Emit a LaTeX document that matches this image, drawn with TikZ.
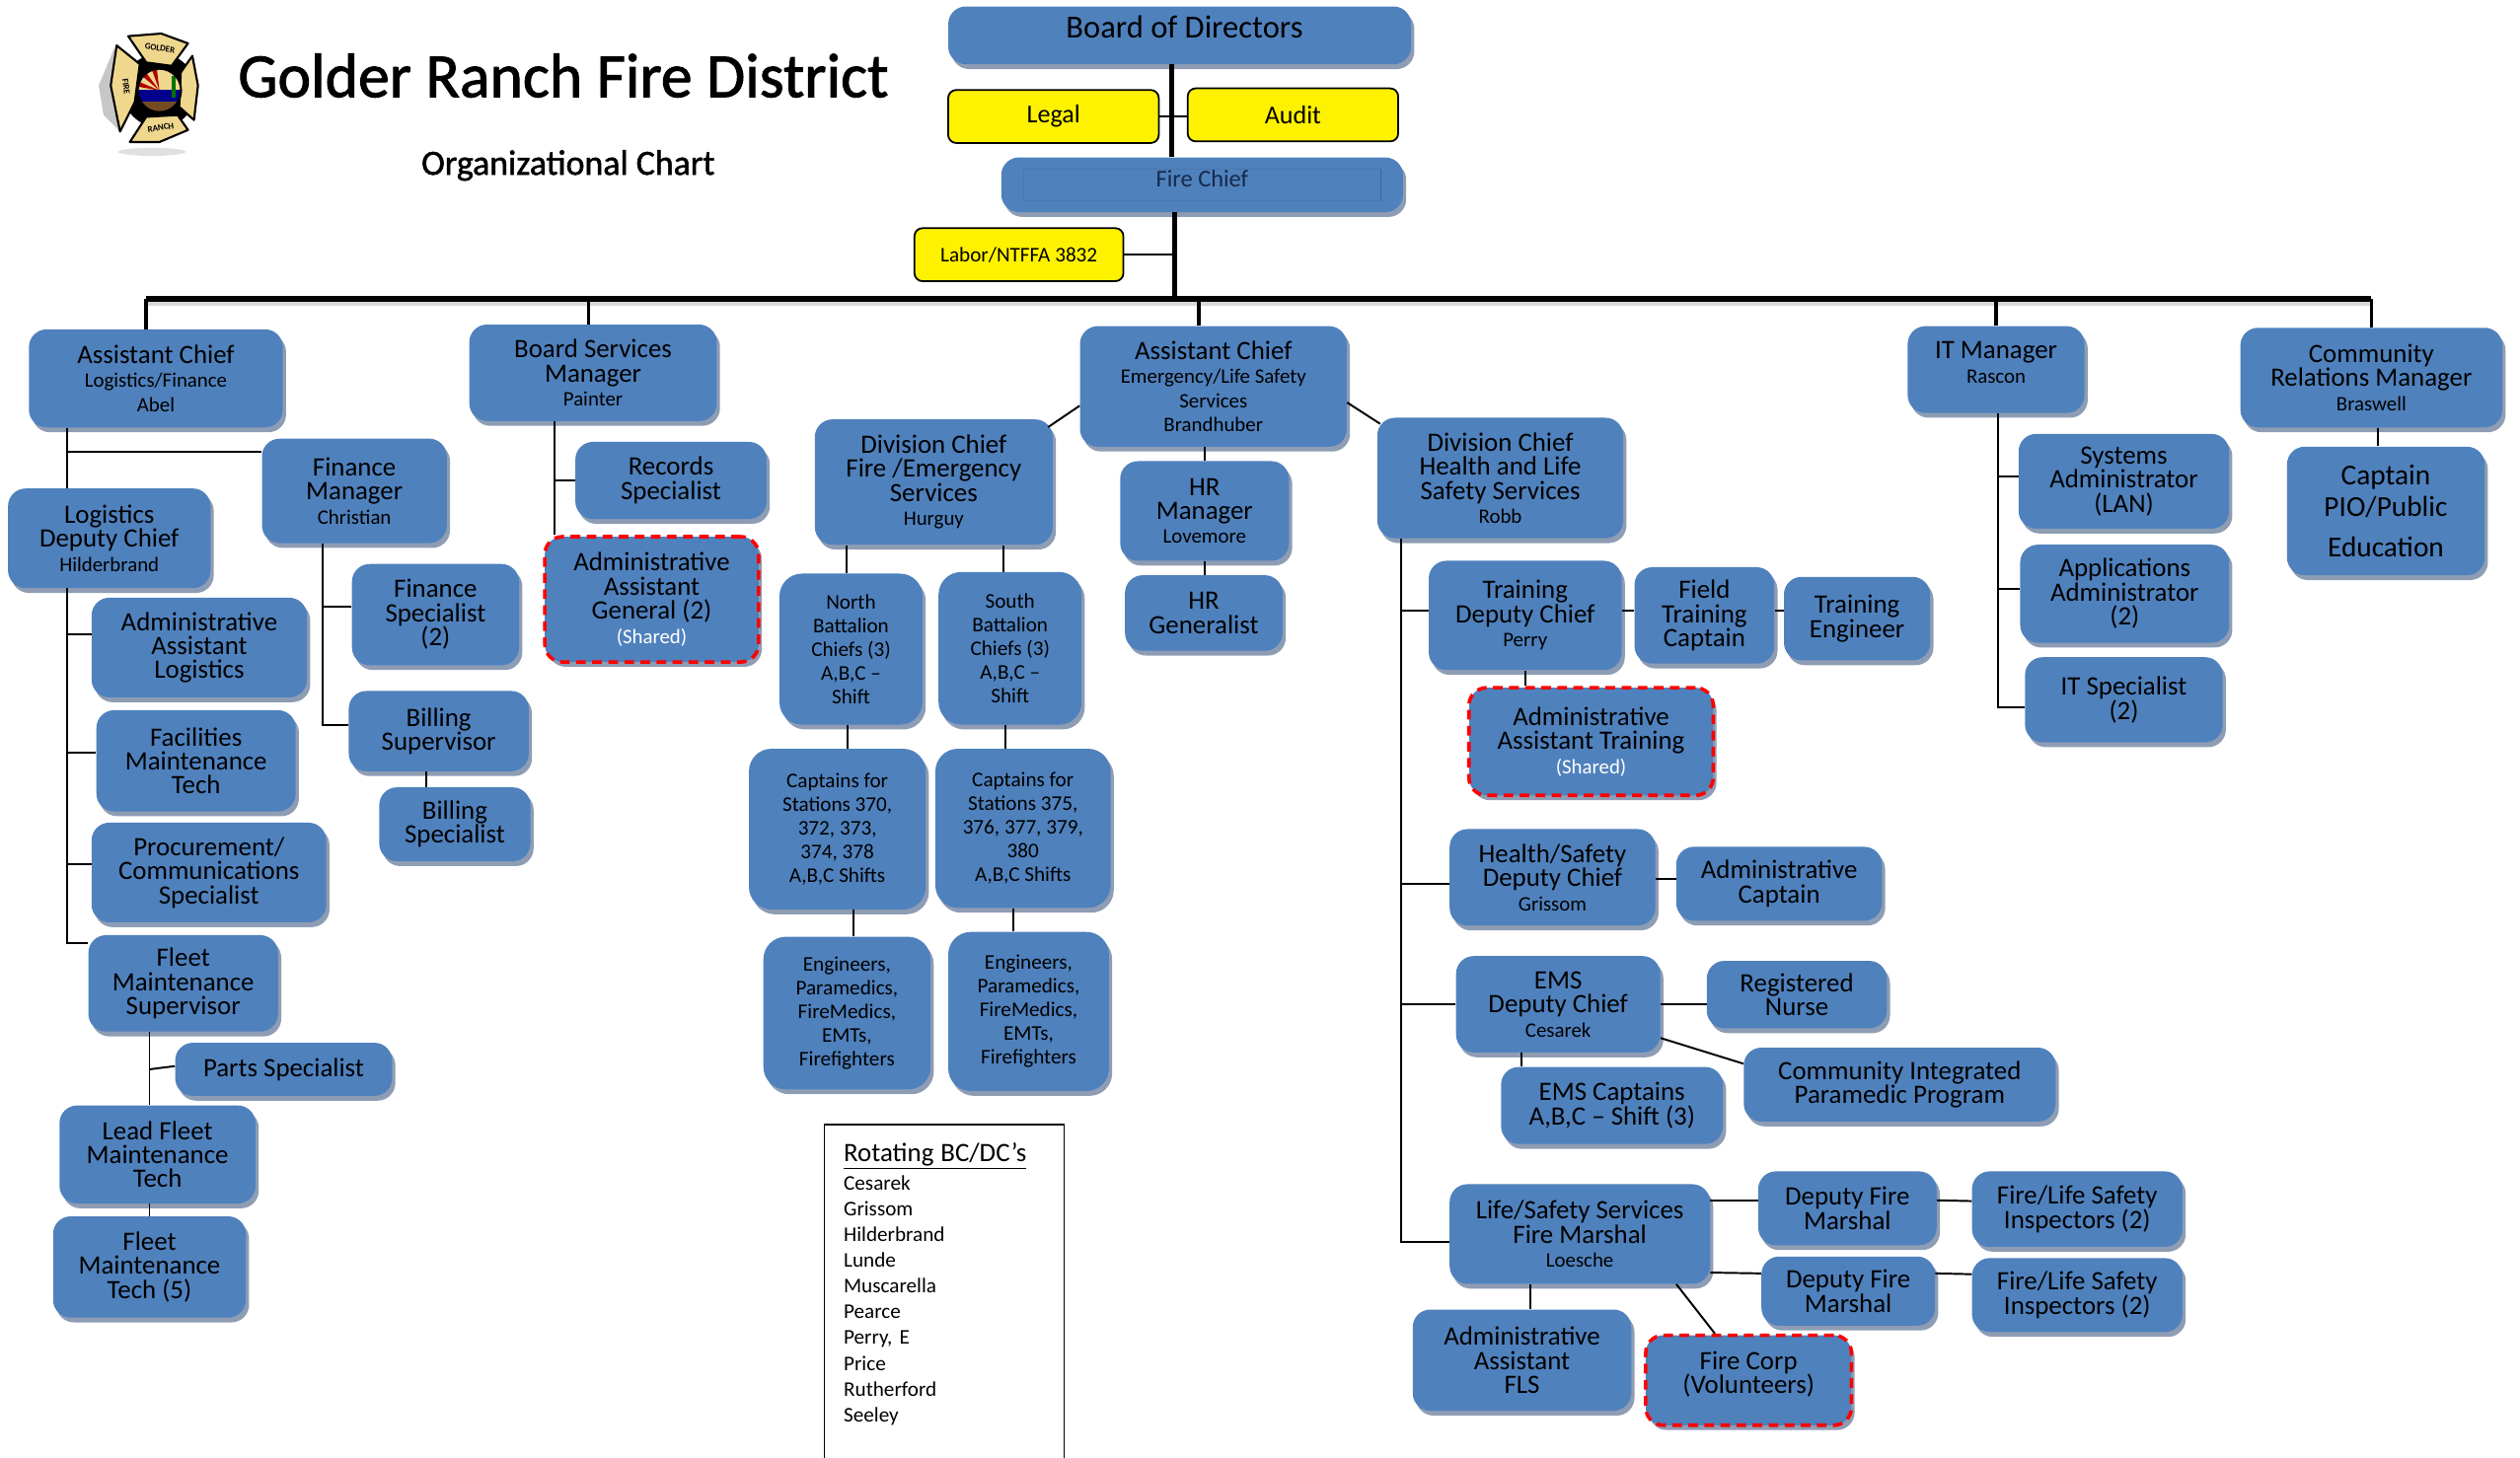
\documentclass[tikz,border=0pt]{standalone}
\usepackage{fontspec}
\setmainfont{Carlito}
\newfontfamily\titlefont[FakeBold=1.4]{Carlito}
\usetikzlibrary{shadows}
\definecolor{orgblue}{HTML}{4F81BD}
\definecolor{orgshade}{HTML}{8E9DB4}
\definecolor{chiefink}{HTML}{17294A}
\definecolor{badgegold}{HTML}{EFD78E}
\newcommand{\subname}[1]{{\fontsize{12.8}{15}\selectfont #1}}
\tikzset{
  orgbox/.style={fill=orgblue, rounded corners=11pt, inner sep=0pt, align=center,
    font=\fontsize{16.5}{15}\selectfont,
    drop shadow={shadow xshift=2pt, shadow yshift=-3pt, fill=orgshade, opacity=1}},
  smallbox/.style={orgbox, rounded corners=14pt, font=\fontsize{13}{14.7}\selectfont},
  sharedbox/.style={orgbox, draw=red, line width=2.2pt, dash pattern=on 6pt off 4pt},
  legalbox/.style={fill=yellow, draw=black, line width=1.1pt, rounded corners=5pt, inner sep=0pt, font=\fontsize{16}{15}\selectfont},
  orgline/.style={draw=black, line width=1.2pt},
  spine/.style={draw=black, line width=3pt},
  chiefframe/.style={draw=orgblue!92!black, line width=0.5pt},
  badgearm/.style={fill=badgegold, draw=black, line width=1.3pt, line join=round},
  badgetext/.style={font=\fontsize{5.5}{6}\selectfont\bfseries, inner sep=0pt}
}
\begin{document}
\begin{tikzpicture}[x=1pt, y=-1pt]
  \useasboundingbox (0,0) rectangle (1568,907);

  % Badge
  \fill[black!12] (94.5,94.5) ellipse (21 and 2.5);
  \fill[black!22] (71.6,28.7) -- (61.4,53.2) -- (64.4,71.6) -- (74.7,81.9) -- (68.9,53.2) -- cycle;
  \fill[black] (99.2,56.3) circle (23);
  \filldraw[badgearm] (79.8,22.5) -- (100.3,20.9) -- (117,27) -- (106.8,41) -- (91,38.9) -- cycle;
  \filldraw[badgearm] (72.6,28.3) -- (87,39.9) -- (83.9,63.5) -- (74.7,81.9) -- (68.9,53.2) -- cycle;
  \filldraw[badgearm] (119.7,34.8) -- (123.2,53.2) -- (120.7,74.7) -- (111.5,66.5) -- (112.5,45) -- cycle;
  \filldraw[badgearm] (91,72.7) -- (110.5,71.6) -- (117,80.9) -- (99.2,88.4) -- (80.8,88.4) -- cycle;
  \begin{scope}
    \clip (99.2,56.3) circle (13.5);
    \fill[badgegold] (85,42) rectangle (113,58);
    \foreach \a in {100,130,160,190,220,250}
      \fill[red!70!black] (99.2,56.3) -- ++(\a:15) -- ++(\a+90:3.5) -- cycle;
    \fill[blue!55!black] (85,56) rectangle (113,64);
    \fill[brown!60!black] (85,63) rectangle (113,71);
    \fill[green!45!black] (107,47) rectangle (109,61);
  \end{scope}
  \draw[line width=1.2pt] (99.2,56.3) circle (13.5);
  \node[badgetext, rotate=-8] (badgetop) at (99.5,30) {GOLDER};
  \node[badgetext, rotate=-82] (badgeleft) at (78.5,54) {FIRE};
  \node[badgetext, rotate=8] (badgelow) at (100,79.5) {RANCH};

  % Title
  \node[inner sep=0pt, font=\fontsize{39.1}{40}\titlefont] (title) at (350.5,47) {Golder Ranch Fire District};
  \node[inner sep=0pt, font=\fontsize{22}{24}\titlefont] (subtitle) at (353.5,103) {Organizational Chart};

  % Top of the chart
  \node[orgbox, minimum width=288, minimum height=36, text depth=10pt, font=\fontsize{20}{18}\selectfont] (board) at (734,22) {\hspace*{6pt}Board of Directors};
  \node[legalbox, minimum width=131, minimum height=33] (legal) at (655.5,72.5) {Legal};
  \node[legalbox, minimum width=131, minimum height=33] (audit) at (804.5,71.5) {Audit};
  \node[orgbox, minimum width=250, minimum height=34, text depth=8pt, text=chiefink, font=\fontsize{15}{13}\selectfont] (chief) at (748,115) {Fire Chief};
  \node[legalbox, minimum width=130, minimum height=33, font=\fontsize{13}{13}\selectfont] (labor) at (634,158.5) {Labor/NTFFA 3832};

  % Second row
  \node[orgbox, minimum width=158, minimum height=61] (chieflog) at (97,235.5) {Assistant Chief\\\subname{Logistics/Finance}\\\subname{Abel}};
  \node[orgbox, minimum width=154, minimum height=60] (boardsvc) at (369,232) {Board Services\\Manager\\\subname{Painter}};
  \node[orgbox, minimum width=166, minimum height=75] (chiefems) at (755,240.5) {Assistant Chief\\\subname{Emergency/Life Safety}\\\subname{Services}\\\subname{Brandhuber}};
  \node[orgbox, minimum width=110, minimum height=54, text depth=9pt] (itmgr) at (1242,230) {IT Manager\\\subname{Rascon}};
  \node[orgbox, minimum width=163, minimum height=62] (commgr) at (1475.5,235) {Community\\Relations Manager\\\subname{Braswell}};
  \node[orgbox, minimum width=123, minimum height=80, font=\fontsize{18}{20}\selectfont] (pio) at (1484.5,318) {Captain\\PIO/Public\\[5pt]Education};

  % Logistics and finance
  \node[orgbox, minimum width=115, minimum height=65] (finmgr) at (220.5,305.5) {Finance\\Manager\\\subname{Christian}};
  \node[orgbox, minimum width=126, minimum height=62] (logdep) at (68,335) {Logistics\\Deputy Chief\\\subname{Hilderbrand}};
  \node[orgbox, minimum width=104, minimum height=63] (finspec) at (271,382.5) {Finance\\Specialist\\(2)};
  \node[orgbox, minimum width=112, minimum height=50] (billsup) at (273,455) {Billing\\Supervisor};
  \node[orgbox, minimum width=94, minimum height=46] (billspec) at (283,513) {Billing\\Specialist};
  \node[orgbox, minimum width=134, minimum height=62] (adminlog) at (124,403) {Administrative\\Assistant\\Logistics};
  \node[orgbox, minimum width=124, minimum height=63] (facil) at (122,473.5) {Facilities\\Maintenance\\Tech};
  \node[orgbox, minimum width=146, minimum height=62] (procure) at (130,543) {Procurement/\\Communications\\Specialist};
  \node[orgbox, minimum width=118, minimum height=60] (fleetsup) at (114,612) {Fleet\\Maintenance\\Supervisor};
  \node[orgbox, minimum width=135, minimum height=33] (parts) at (176.5,665.5) {Parts Specialist};
  \node[orgbox, minimum width=122, minimum height=61] (leadfleet) at (98,718.5) {Lead Fleet\\Maintenance\\Tech};
  \node[orgbox, minimum width=120, minimum height=63] (fleettech) at (93,788.5) {Fleet\\Maintenance\\Tech (5)};

  % Board services
  \node[orgbox, minimum width=119, minimum height=48] (records) at (417.5,299) {Records\\Specialist};
  \node[sharedbox, minimum width=133, minimum height=78] (admingen) at (405.5,373) {Administrative\\Assistant\\General (2)\\\textcolor{white}{\subname{(Shared)}}};

  % Fire and emergency services
  \node[orgbox, minimum width=148, minimum height=78] (divfire) at (581,300) {Division Chief\\Fire /Emergency\\Services\\\subname{Hurguy}};
  \node[smallbox, minimum width=89, minimum height=94] (north) at (529.5,404) {North\\Battalion\\Chiefs (3)\\A,B,C --\\Shift};
  \node[smallbox, minimum width=89, minimum height=95] (south) at (628.5,403.5) {South\\Battalion\\Chiefs (3)\\A,B,C --\\Shift};
  \node[smallbox, minimum width=110, minimum height=100] (capnorth) at (521,516) {Captains for\\Stations 370,\\372, 373,\\374, 378\\A,B,C Shifts};
  \node[smallbox, minimum width=109, minimum height=99] (capsouth) at (636.5,515.5) {Captains for\\Stations 375,\\376, 377, 379,\\380\\A,B,C Shifts};
  \node[smallbox, minimum width=104, minimum height=95] (engnorth) at (527,630.5) {Engineers,\\Paramedics,\\FireMedics,\\EMTs,\\Firefighters};
  \node[smallbox, minimum width=100, minimum height=99] (engsouth) at (640,629.5) {Engineers,\\Paramedics,\\FireMedics,\\EMTs,\\Firefighters};
  \node[inner sep=0pt, minimum width=149, minimum height=198, text width=125, align=left, font=\fontsize{13}{16}\selectfont] (rotating) at (587.5,799) {{\fontsize{16.5}{16}\selectfont\underline{Rotating BC/DC’s}}\\[2pt]Cesarek\\Grissom\\Hilderbrand\\Lunde\\Muscarella\\Pearce\\Perry, E\\Price\\Rutherford\\Seeley};

  % Human resources
  \node[orgbox, minimum width=105, minimum height=62] (hrmgr) at (749.5,318) {HR\\Manager\\\subname{Lovemore}};
  \node[orgbox, minimum width=98, minimum height=47] (hrgen) at (749,381.5) {HR\\Generalist};

  % Health and life safety
  \node[orgbox, minimum width=153, minimum height=75] (divlife) at (933.5,297.5) {Division Chief\\Health and Life\\Safety Services\\\subname{Robb}};
  \node[orgbox, minimum width=120, minimum height=68] (traindc) at (949,383) {Training\\Deputy Chief\\\subname{Perry}};
  \node[orgbox, minimum width=87, minimum height=60] (field) at (1060.5,383) {Field\\Training\\Captain};
  \node[orgbox, minimum width=91, minimum height=52] (trainer) at (1155.5,385) {Training\\Engineer};
  \node[sharedbox, minimum width=152, minimum height=67] (admintrain) at (990,461.5) {Administrative\\Assistant Training\\\textcolor{white}{\subname{(Shared)}}};
  \node[orgbox, minimum width=128, minimum height=60] (healthdc) at (966,546) {Health/Safety\\Deputy Chief\\\subname{Grissom}};
  \node[orgbox, minimum width=128, minimum height=46] (admincap) at (1107,550) {Administrative\\Captain};
  \node[orgbox, minimum width=127, minimum height=60] (emsdc) at (969.5,625) {EMS\\Deputy Chief\\\subname{Cesarek}};
  \node[orgbox, minimum width=112, minimum height=42] (nurse) at (1118,619) {Registered\\Nurse};
  \node[orgbox, minimum width=194, minimum height=46] (cipp) at (1182,675) {Community Integrated\\Paramedic Program};
  \node[orgbox, minimum width=138, minimum height=48] (emscap) at (1003,688) {EMS Captains\\A,B,C -- Shift (3)};
  \node[orgbox, minimum width=162, minimum height=62] (marshal) at (983,768) {Life/Safety Services\\Fire Marshal\\\subname{Loesche}};
  \node[orgbox, minimum width=111, minimum height=46] (dfmone) at (1149.5,752) {Deputy Fire\\Marshal};
  \node[orgbox, minimum width=108, minimum height=43] (dfmtwo) at (1150,803.5) {Deputy Fire\\Marshal};
  \node[orgbox, minimum width=131, minimum height=47] (inspone) at (1292.5,752.5) {Fire/Life Safety\\Inspectors (2)};
  \node[orgbox, minimum width=131, minimum height=46] (insptwo) at (1292.5,806) {Fire/Life Safety\\Inspectors (2)};
  \node[orgbox, minimum width=136, minimum height=63] (adminfls) at (947,846.5) {Administrative\\Assistant\\FLS};
  \node[sharedbox, minimum width=128, minimum height=56, text depth=9.5pt] (firecorp) at (1088,859) {Fire Corp\\(Volunteers)};

  % IT
  \node[orgbox, minimum width=131, minimum height=59] (sysadmin) at (1321.5,299.5) {Systems\\Administrator\\(LAN)};
  \node[orgbox, minimum width=130, minimum height=61] (appadmin) at (1322,369.5) {Applications\\Administrator\\(2)};
  \node[orgbox, minimum width=123, minimum height=53] (itspec) at (1321.5,435.5) {IT Specialist\\(2)};

  % Trunk lines
  \coordinate (busl) at (91,186);
  \coordinate (busr) at (1475,186);
  \coordinate (logtrunk) at (42,0);
  \coordinate (fintrunk) at (201,0);
  \coordinate (bstrunk) at (345,0);
  \coordinate (ittrunk) at (1243,0);
  \coordinate (lifetrunk) at (872,0);

  % Board to chief to bus
  \draw[chiefframe] ([xshift=14pt,yshift=-7.5pt]chief.north west) rectangle ([xshift=-14pt,yshift=7.5pt]chief.south east);
  \draw[chiefframe, draw=orgblue!80!black, line width=1pt] ([xshift=-14pt,yshift=-7.5pt]chief.north east) -- ([xshift=-14pt,yshift=7.5pt]chief.south east);
  \draw[spine] ([xshift=-5pt]board.south) -- ([xshift=-5pt]board.south |- chief.north);
  \draw[spine] ([xshift=-17pt]chief.south) -- ([xshift=-17pt]chief.south |- busl);
  \draw[draw=black!15, line width=2.5pt] ([yshift=-3pt]busl) -- ([yshift=-3pt]busr);
  \draw[spine, line width=3.6pt] (busl) -- (busr);
  \draw[orgline] (legal.east) -- (legal.east -| audit.west);
  \draw[orgline] (labor.east) -- ([xshift=-17pt]labor.east -| chief.south);
  \draw[orgline, line width=2.2pt] (busl) -- (busl |- chieflog.north);
  \draw[orgline, line width=2pt] ([xshift=-3pt]boardsvc.north) -- ([xshift=-3pt]boardsvc.north |- busl);
  \draw[orgline, line width=2pt] ([xshift=-9pt]chiefems.north) -- ([xshift=-9pt]chiefems.north |- busl);
  \draw[orgline, line width=2pt] (itmgr.north) -- (itmgr.north |- busl);
  \draw[orgline, line width=2pt] (commgr.north) -- (commgr.north |- busl);
  \draw[orgline] ([xshift=4pt]commgr.south) -- ([xshift=4pt]commgr.south |- pio.north);

  % Logistics lines
  \draw[orgline] (chieflog.south -| logtrunk) -- (logdep.north -| logtrunk);
  \draw[orgline] (logtrunk |- finmgr.west) ++(0,-24.5) -- ([yshift=24.5pt]finmgr.west);
  \draw[orgline] (logdep.south -| logtrunk) |- ([yshift=25pt]fleetsup.west);
  \draw[orgline] ([yshift=8pt]logtrunk |- adminlog.west) -- ([yshift=8pt]adminlog.west);
  \draw[orgline] ([yshift=5pt]logtrunk |- facil.west) -- ([yshift=5pt]facil.west);
  \draw[orgline] ([yshift=5pt]logtrunk |- procure.west) -- ([yshift=5pt]procure.west);
  \draw[orgline] (finmgr.south -| fintrunk) |- ([yshift=4pt]billsup.west);
  \draw[orgline] ([yshift=5pt]fintrunk |- finspec.west) -- ([yshift=5pt]finspec.west);
  \draw[orgline] ([xshift=-8pt]billsup.south) -- ([xshift=-8pt]billsup.south |- billspec.north);
  \draw[orgline] ([xshift=-21pt]fleetsup.south) -- ([xshift=-21pt]fleetsup.south |- leadfleet.north);
  \draw[orgline] ([xshift=-21pt]fleetsup.south |- parts.west) -- ([yshift=2pt]parts.west);
  \draw[orgline] ([xshift=-5pt]leadfleet.south) -- ([xshift=-5pt]leadfleet.south |- fleettech.north);

  % Board services lines
  \draw[orgline] (boardsvc.south -| bstrunk) -- (admingen.north -| bstrunk);
  \draw[orgline] (bstrunk |- records.west) -- (records.west);

  % Assistant chief lines
  \draw[orgline] ([yshift=-12pt]chiefems.west) -- ([xshift=-3pt,yshift=-5pt]divfire.north east);
  \draw[orgline] ([yshift=-10pt]chiefems.east) -- ([xshift=2pt,yshift=-4pt]divlife.north west);
  \draw[orgline] (chiefems.south -| hrmgr.north) -- (hrmgr.north);
  \draw[orgline] (hrmgr.south) -- (hrmgr.south |- hrgen.north);
  \draw[orgline] ([xshift=-3pt]north.north |- divfire.south) -- ([xshift=-3pt]north.north);
  \draw[orgline] ([xshift=-4pt]south.north |- divfire.south) -- ([xshift=-4pt]south.north);
  \draw[orgline] ([xshift=-2pt]north.south) -- ([xshift=-2pt]north.south |- capnorth.north);
  \draw[orgline] ([xshift=-3pt]south.south) -- ([xshift=-3pt]south.south |- capsouth.north);
  \draw[orgline] ([xshift=10pt]capnorth.south) -- ([xshift=10pt]capnorth.south |- engnorth.north);
  \draw[orgline] ([xshift=-6pt]capsouth.south) -- ([xshift=-6pt]capsouth.south |- engsouth.north);

  % Health and life safety lines
  \draw[orgline] (divlife.south -| lifetrunk) |- ([yshift=-5pt]marshal.west);
  \draw[orgline] ([yshift=3pt]lifetrunk |- traindc.west) -- ([yshift=3pt]traindc.west);
  \draw[orgline] ([yshift=3pt]traindc.east) -- ([yshift=3pt]field.west);
  \draw[orgline] ([yshift=3pt]field.east) -- ([yshift=3pt]field.east -| trainer.west);
  \draw[orgline] (traindc.south) -- (traindc.south |- admintrain.north);
  \draw[orgline] ([yshift=-4pt]lifetrunk |- healthdc.west) -- ([yshift=-4pt]healthdc.west);
  \draw[orgline] ([yshift=-1pt]healthdc.east) -- ([yshift=3pt]admincap.west);
  \draw[orgline] (lifetrunk |- emsdc.west) -- (emsdc.west);
  \draw[orgline] (emsdc.east) -- (emsdc.east -| nurse.west);
  \draw[orgline] ([yshift=-21pt]emsdc.east) -- ([yshift=13pt]cipp.west);
  \draw[orgline] ([xshift=-23pt]emsdc.south) -- ([xshift=-23pt]emsdc.south |- emscap.north);
  \draw[orgline] ([yshift=21pt]marshal.east) -- ([yshift=5pt]dfmone.west);
  \draw[orgline] ([yshift=-24pt]marshal.east) -- ([yshift=11pt]dfmtwo.west);
  \draw[orgline] ([yshift=5pt]dfmone.east) -- ([yshift=5pt]inspone.west);
  \draw[orgline] ([yshift=11pt]dfmtwo.east) -- ([yshift=13pt]insptwo.west);
  \draw[orgline] ([xshift=-31pt]marshal.south) -- ([xshift=-31pt]marshal.south |- adminfls.north);
  \draw[orgline] ([xshift=60pt]marshal.south) -- ([xshift=-21pt]firecorp.north);

  % IT lines
  \draw[orgline] (itmgr.south -| ittrunk) |- ([yshift=-4.5pt]itspec.west);
  \draw[orgline] ([yshift=3pt]ittrunk |- sysadmin.west) -- ([yshift=3pt]sysadmin.west);
  \draw[orgline] ([yshift=3pt]ittrunk |- appadmin.west) -- ([yshift=3pt]appadmin.west);

  % Rotating list frame
  \draw[orgline, line width=0.8pt] ([yshift=-12pt]rotating.south west) -- (rotating.north west) -- (rotating.north east) -- ([yshift=-12pt]rotating.south east);
\end{tikzpicture}
\end{document}
